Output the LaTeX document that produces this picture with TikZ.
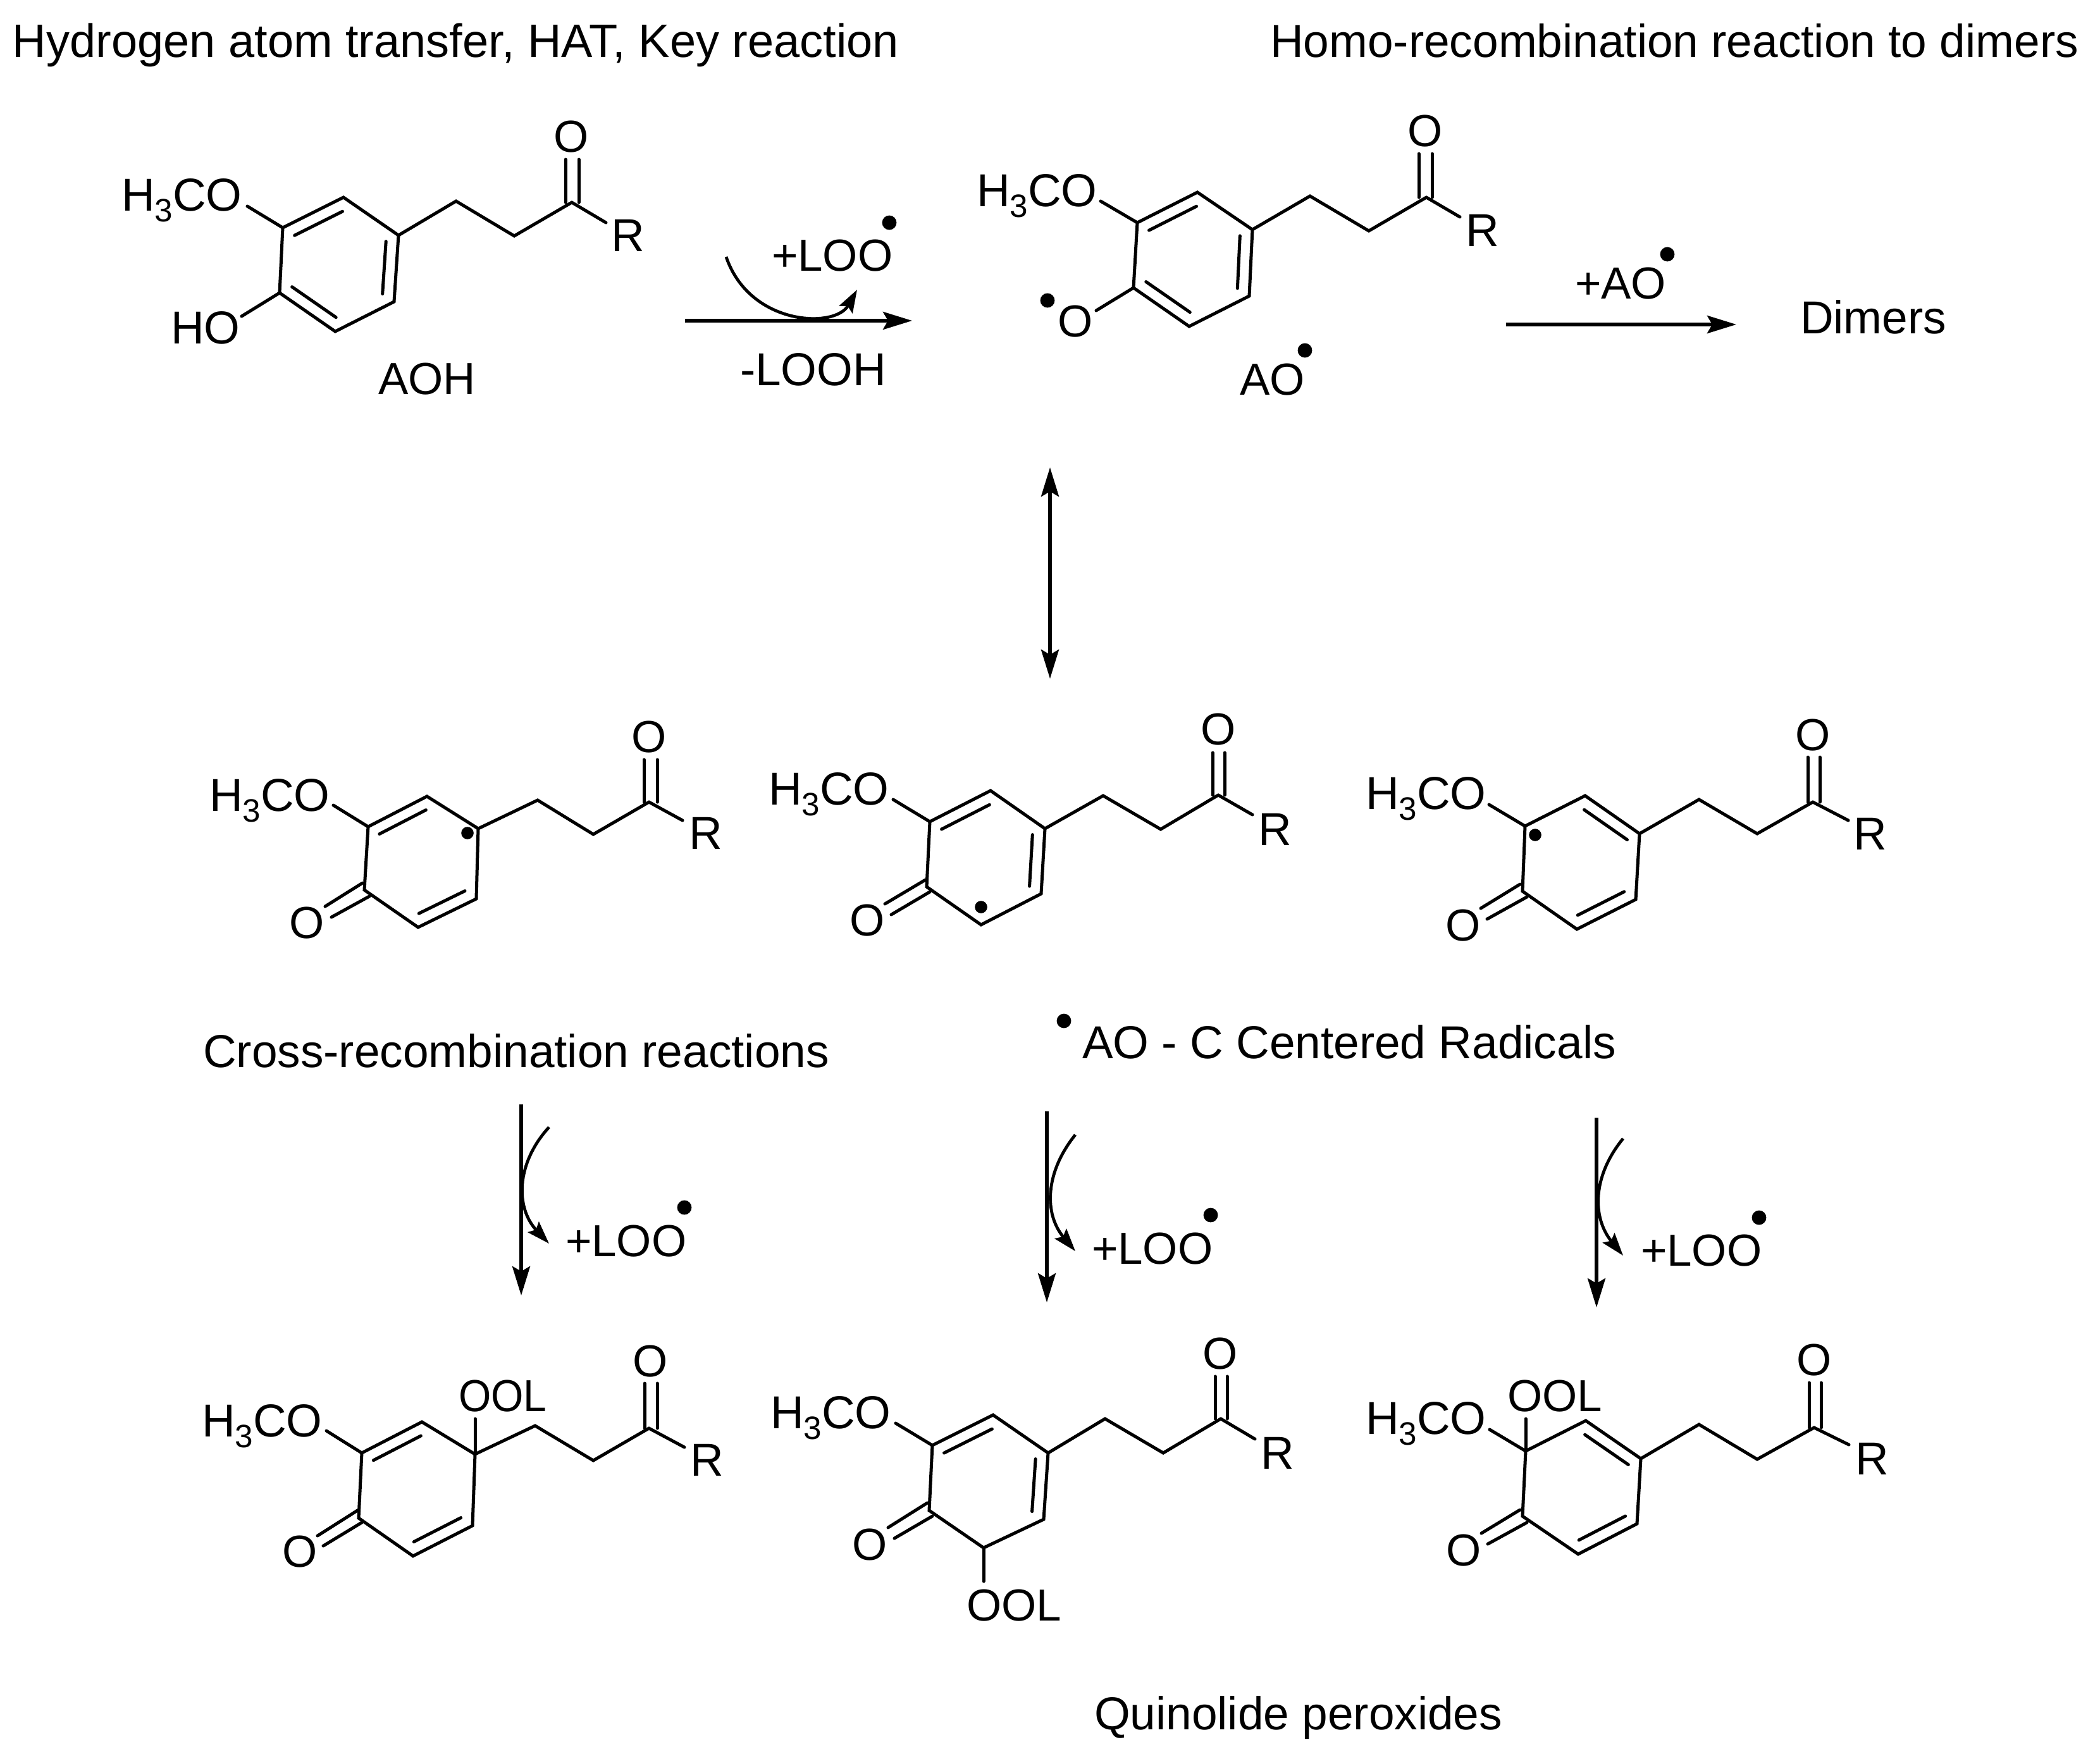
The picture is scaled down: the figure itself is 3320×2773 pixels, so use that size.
\documentclass[tikz,border=0pt]{standalone}
\usepackage{fontspec}
\setmainfont{Liberation Sans}
\usetikzlibrary{calc,arrows.meta}
\newcommand\fsz{\fontsize{17.75}{20}\selectfont}
\newcommand\fbig{\fontsize{18.25}{20}\selectfont}
\newcommand\HCO{H\raisebox{-.24em}{\fontsize{12.8}{12.8}\selectfont 3}CO}
\tikzset{
  bond/.style={line width=1.25pt,line cap=round,line join=miter},
  lab/.style={inner sep=0pt,outer sep=0pt,font=\fsz,anchor=base west},
  biglab/.style={lab,font=\fbig},
  atomlab/.style={inner sep=0pt,outer sep=0pt,font=\fsz,anchor=center},
  arr/.style={line width=1.35pt,-{Stealth[length=11.5pt,width=7pt,inset=2pt]}},
  darr/.style={line width=1.35pt,{Stealth[length=11.5pt,width=7pt,inset=2pt]}-{Stealth[length=11.5pt,width=7pt,inset=2pt]}},
  carr/.style={line width=1.2pt,-{Stealth[length=9pt,width=6pt,inset=1.5pt]}},
  rad/.style={circle,fill=black,inner sep=0pt,minimum size=5.7pt},
  radring/.style={circle,fill=black,inner sep=0pt,minimum size=4.9pt}
}
% atoms: 1..6 ring, 7..9 chain
\newcommand\atoms[2]{\foreach \x/\y [count=\k] in {#2} {\coordinate (#1\k) at (\x,\y);}
  \draw[bond] (#11)--(#12)--(#13)--(#14)--(#15)--(#16)--cycle;
  \draw[bond] (#13)--(#17)--(#18)--(#19);
  \coordinate (#1c) at (barycentric cs:#11=1,#12=1,#13=1,#14=1,#15=1,#16=1);}
\newcommand\inbond[3]{\draw[bond] ($(#1#2)!0.21!(#1c)$) -- ($(#1#3)!0.21!(#1c)$);}
% prefix, x left, x right, y top, R-bond end, R label, O label
\newcommand\carbonyl[7]{
  \draw[bond] (#2,#4) -- (#2,#4 |- #19) ;
  \draw[bond] (#3,#4) -- (#3,#4 |- #19) ;
  \draw[bond] (#19) -- (#5);
  \node[biglab,xshift=-1.25pt] (#1R) at (#6) {R};
  \node[atomlab] (#1O) at (#7) {O};}
\newcommand\meo[3]{
  \node[biglab,xshift=-1pt] (#1M) at (#2) {\HCO};
  \draw[bond] (#11) -- (#3);}
\newcommand\oxo[6]{
  \node[atomlab] (#1K) at (#2) {O};
  \draw[bond] (#3) -- (#4);
  \draw[bond] (#5) -- (#6);}
\begin{document}
\begin{tikzpicture}[x=0.25pt,y=-0.25pt]
\useasboundingbox (0,0) rectangle (3320,2773);
\fill[white] (0,0) rectangle (3320,2773);

% headings
\node[lab,font=\fontsize{18.5}{20}\selectfont] (t1) at (20,91) {Hydrogen atom transfer, HAT, Key reaction};
\node[biglab] (t2) at (2008,91) {Homo-recombination reaction to dimers};
\node[biglab] (t3) at (321,1687) {Cross-recombination reactions};
\node[biglab] (t4) at (1711,1673) {AO - C Centered Radicals};
\node[rad] (t4d) at (1682,1614) {};
\node[biglab] (t5) at (1730,2734) {Quinolide peroxides};

% molecule 1: AOH
\atoms{a}{447/360,543/312,630/372,623/477,530/524,442/463,721/318,813/373,904/320}
\inbond{a}{1}{2}\inbond{a}{3}{4}\inbond{a}{6}{5}
\carbonyl{a}{894}{915}{252}{958,352}{971,397}{903,216}
\meo{a}{196,333}{391,326}
\node[biglab] (aHO) at (270,543) {HO};
\draw[bond] (a6) -- (382,500);
\node[lab] (aname) at (598,623) {AOH};

% molecule 2: AO radical
\atoms{b}{1798/352,1893/304,1980/363,1975/468,1880/516,1792/455,2071/310,2164/365,2255/312}
\inbond{b}{1}{2}\inbond{b}{3}{4}\inbond{b}{6}{5}
\carbonyl{b}{2243}{2264}{243}{2308,343}{2322,389}{2253,207}
\meo{b}{1548,326}{1740,318}
\node[atomlab] (bOr) at (1700,508) {O};
\draw[bond] (b6) -- (1733,491);
\node[rad] (bOd) at (1656,475) {};
\node[lab] (bname) at (1960,624) {AO};
\node[rad] (bnd) at (2063,554) {};

% first reaction
\coordinate (r1s) at (1083,507); \coordinate (r1e) at (1442,507);
\draw[arr] (r1s) -- (r1e);
\node[lab] (r1top) at (1220,428) {+LOO};
\node[rad] (r1d) at (1406,352) {};
\node[biglab] (r1bot) at (1170,609) {-LOOH};
\coordinate (c1s) at (1148,406); \coordinate (c1e) at (1355,458);
\draw[carr] (c1s) .. controls (1185,515) and (1320,520) .. (c1e);

% second reaction
\coordinate (r2s) at (2381,513); \coordinate (r2e) at (2745,513);
\draw[arr] (r2s) -- (r2e);
\node[lab] (r2top) at (2490,472) {+AO};
\node[rad] (r2d) at (2636,402) {};
\node[biglab] (dimers) at (2846,527) {Dimers};

% resonance arrow
\coordinate (resa) at (1660,739); \coordinate (resb) at (1660,1073);
\draw[darr] (resa) -- (resb);

% molecule 3
\atoms{c}{582/1307,675/1259,756/1310,753/1421,661/1466,576/1407,850/1265,938/1319,1026/1268}
\inbond{c}{1}{2}\inbond{c}{5}{4}
\carbonyl{c}{1018}{1039}{1201}{1079,1297}{1094,1342}{1026,1165}
\meo{c}{335,1282}{527,1273}
\oxo{c}{485,1459}{573,1396}{514,1433}{584,1417}{524,1450}
\node[radring] (cd) at (739,1317) {};

% molecule 4
\atoms{d}{1470/1299,1566/1250,1652/1310,1646/1413,1551/1462,1465/1402,1744/1258,1835/1311,1926/1257}
\inbond{d}{1}{2}\inbond{d}{3}{4}
\carbonyl{d}{1917}{1936}{1190}{1980,1288}{1994,1336}{1926,1153}
\meo{d}{1219,1272}{1412,1264}
\oxo{d}{1371,1455}{1463,1391}{1399,1429}{1470,1410}{1409,1446}
\node[radring] (dd) at (1551,1434) {};

% molecule 5
\atoms{e}{2411/1306,2506/1258,2592/1318,2586/1422,2493/1469,2407/1409,2686/1264,2778/1318,2866/1268}
\inbond{e}{2}{3}\inbond{e}{5}{4}
\carbonyl{e}{2858}{2877}{1197}{2922,1297}{2935,1343}{2866,1162}
\meo{e}{2163,1279}{2354,1272}
\oxo{e}{2313,1463}{2403,1398}{2341,1436}{2414,1418}{2351,1453}
\node[radring] (ed) at (2427,1320) {};

% downward arrows
\coordinate (v1s) at (824,1746); \coordinate (v1e) at (824,2048);
\coordinate (v2s) at (1655,1757); \coordinate (v2e) at (1655,2059);
\coordinate (v3s) at (2524,1767); \coordinate (v3e) at (2524,2067);
\draw[arr] (v1s) -- (v1e);
\draw[arr] (v2s) -- (v2e);
\draw[arr] (v3s) -- (v3e);
\coordinate (w1s) at (868,1782); \coordinate (w1e) at (868,1966);
\coordinate (w2s) at (1700,1794); \coordinate (w2e) at (1700,1978);
\coordinate (w3s) at (2566,1800); \coordinate (w3e) at (2566,1985);
\draw[carr] (w1s) .. controls (815,1840) and (815,1910) .. (w1e);
\draw[carr] (w2s) .. controls (1651,1855) and (1651,1920) .. (w2e);
\draw[carr] (w3s) .. controls (2517,1860) and (2517,1925) .. (w3e);
\node[lab] (l1) at (894,1986) {+LOO};
\node[rad] (l1d) at (1082,1909) {};
\node[lab] (l2) at (1726,1998) {+LOO};
\node[rad] (l2d) at (1914,1921) {};
\node[lab] (l3) at (2594,2001) {+LOO};
\node[rad] (l3d) at (2781,1925) {};

% molecule 6
\atoms{f}{572/2297,667/2248,751/2299,747/2412,653/2460,567/2400,846/2254,938/2309,1026/2258}
\inbond{f}{1}{2}\inbond{f}{5}{4}
\carbonyl{f}{1019}{1039}{2187}{1082,2288}{1096,2333}{1028,2152}
\meo{f}{323,2271}{516,2262}
\oxo{f}{474,2453}{565,2388}{502,2428}{572,2407}{511,2444}
\node[lab] (fL) at (725,2231) {\scalebox{.93}[1]{OOL}};
\draw[bond] (f3) -- (751,2243);

% molecule 7
\atoms{g}{1474/2285,1570/2237,1657/2297,1650/2402,1555/2447,1469/2388,1747/2243,1839/2297,1930/2243}
\inbond{g}{1}{2}\inbond{g}{3}{4}
\carbonyl{g}{1921}{1940}{2176}{1984,2275}{1998,2322}{1929,2140}
\meo{g}{1222,2258}{1416,2250}
\oxo{g}{1375,2442}{1466,2376}{1404,2415}{1474,2397}{1414,2432}
\node[lab] (gL) at (1528,2562) {OOL};
\draw[bond] (g5) -- (1555,2500);

% molecule 8
\atoms{h}{2412/2294,2507/2246,2594/2306,2588/2409,2495/2457,2407/2397,2686/2252,2778/2307,2868/2257}
\inbond{h}{2}{3}\inbond{h}{5}{4}
\carbonyl{h}{2860}{2879}{2186}{2923,2284}{2938,2331}{2868,2150}
\meo{h}{2163,2267}{2355,2260}
\oxo{h}{2314,2451}{2403,2387}{2342,2424}{2414,2407}{2352,2441}
\node[lab] (hL) at (2383,2231) {OOL};
\draw[bond] (h1) -- (2412,2243);
\end{tikzpicture}
\end{document}
